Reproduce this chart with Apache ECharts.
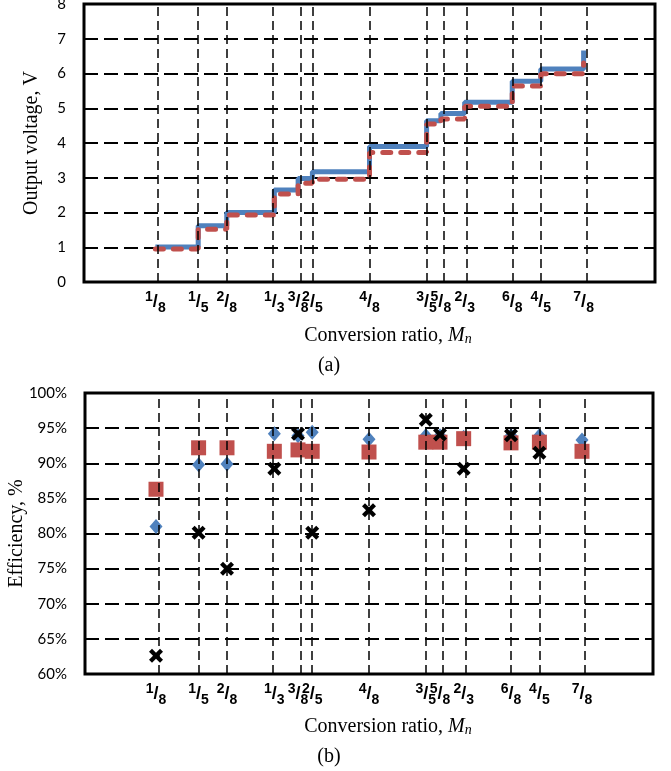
<!DOCTYPE html>
<html>
<head>
<meta charset="utf-8">
<script src="https://cdn.jsdelivr.net/npm/echarts@6/dist/echarts.min.js"></script>
<style>html,body{margin:0;padding:0;background:#fff;}#c{width:671px;height:771px;}</style>
</head>
<body>
<div id="c"></div>
<script>
// Conversion ratios (tick labels) and their values
const ratioLabels = ['1/8','1/5','2/8','1/3','3/8','2/5','4/8','3/5','5/8','2/3','6/8','4/5','7/8'];
const ratios = [1/8, 1/5, 2/8, 1/3, 3/8, 2/5, 4/8, 3/5, 5/8, 2/3, 6/8, 4/5, 7/8];

// (a) Output voltage, V
const voltageBlue = [1.01, 1.62, 2.00, 2.65, 2.98, 3.17, 3.90, 4.64, 4.85, 5.17, 5.78, 6.13, 6.66];
const voltageRed  = [0.95, 1.52, 1.93, 2.53, 2.84, 2.96, 3.73, 4.55, 4.69, 5.06, 5.64, 5.99, 6.30];
const voltageTicks = [0, 1, 2, 3, 4, 5, 6, 7, 8];

// (b) Efficiency, %
const effBlue  = [81.0, 89.8, 89.9, 94.2, 93.9, 94.4, 93.4, 93.9, 93.9, 93.7, 93.9, 93.9, 93.3];
const effRed   = [86.3, 92.2, 92.2, 91.7, 91.9, 91.7, 91.6, 93.0, 93.0, 93.5, 92.9, 93.0, 91.7];
const effCross = [62.6, 80.1, 75.0, 89.2, 94.2, 80.1, 83.3, 96.2, 94.1, 89.2, 94.0, 91.5, null];
const effTicks = [60, 65, 70, 75, 80, 85, 90, 95, 100];

const BLUE = '#4F81BD', RED = '#C0504D';
const chart = echarts.init(document.getElementById('c'), null, {renderer: 'canvas'});

function fracLabel(v) {
  let i = 0, best = 1e9;
  ratios.forEach((r, k) => { const d = Math.abs(r - v); if (d < best) { best = d; i = k; } });
  const p = ratioLabels[i].split('/');
  return '{n|' + p[0] + '}{s|/}{d|' + p[1] + '}';
}
const fracRich = {
  n: {fontSize: 14, fontWeight: 'bold', fontFamily: 'Liberation Sans', color: '#000', verticalAlign: 'top', lineHeight: 12},
  s: {fontSize: 18, fontWeight: 'bold', fontFamily: 'Liberation Sans', color: '#000', verticalAlign: 'middle', lineHeight: 25},
  d: {fontSize: 14, fontWeight: 'bold', fontFamily: 'Liberation Sans', color: '#000', verticalAlign: 'bottom', lineHeight: 12}
};

function xAxisFor(gi) {
  return {
    type: 'value', gridIndex: gi, min: 0, max: 1,
    axisLine: {show: false}, axisTick: {show: false}, splitLine: {show: false},
    axisLabel: {customValues: ratios, formatter: fracLabel, rich: fracRich, margin: 8, hideOverlap: false}
  };
}
const hSplit = {show: true, lineStyle: {color: '#000', width: 2.2, type: [14, 6]}};
const tickFont = {fontFamily: 'Lato', fontSize: 15, color: '#000', margin: 18};
const nameFont = {fontFamily: 'Liberation Serif', fontSize: 20, color: '#000'};

function vLines(xi, yi) {
  return {
    type: 'line', xAxisIndex: xi, yAxisIndex: yi, data: [], z: 1, silent: true,
    markLine: {
      silent: true, symbol: ['none', 'none'], label: {show: false},
      lineStyle: {color: '#000', width: 1.5, type: [9, 5]},
      emphasis: {disabled: true},
      data: ratios.map(r => ({xAxis: r}))
    }
  };
}

const option = {
  backgroundColor: '#fff',
  animation: false,
  grid: [
    {left: 84, top: 4, width: 571, height: 278, show: true, borderColor: '#000', borderWidth: 3, backgroundColor: 'transparent', containLabel: false, outerBoundsMode: 'none'},
    {left: 85, top: 393, width: 568, height: 281, show: true, borderColor: '#000', borderWidth: 3, backgroundColor: 'transparent', containLabel: false, outerBoundsMode: 'none'}
  ],
  xAxis: [xAxisFor(0), xAxisFor(1)],
  yAxis: [
    {type: 'value', gridIndex: 0, min: voltageTicks[0], max: voltageTicks[voltageTicks.length - 1], interval: 1,
     axisLine: {show: false}, axisTick: {show: false}, splitLine: hSplit,
     axisLabel: tickFont, nameMoveOverlap: false,
     name: 'Output voltage, V', nameLocation: 'middle', nameGap: 42, nameTextStyle: nameFont},
    {type: 'value', gridIndex: 1, min: effTicks[0], max: effTicks[effTicks.length - 1], interval: 5,
     axisLine: {show: false}, axisTick: {show: false}, splitLine: hSplit,
     axisLabel: Object.assign({formatter: '{value}%'}, tickFont), nameMoveOverlap: false,
     name: 'Efficiency, %', nameLocation: 'middle', nameGap: 58, nameTextStyle: nameFont}
  ],
  series: [
    vLines(0, 0),
    vLines(1, 1),
    {type: 'line', xAxisIndex: 0, yAxisIndex: 0, step: 'end', showSymbol: false, z: 3,
     lineStyle: {color: BLUE, width: 5},
     data: ratios.map((r, i) => [r, voltageBlue[i]])},
    {type: 'line', xAxisIndex: 0, yAxisIndex: 0, step: 'end', showSymbol: false, z: 4,
     lineStyle: {color: RED, width: 5, type: [8, 10], cap: 'round'},
     data: ratios.map((r, i) => [r, voltageRed[i]])},
    {type: 'scatter', xAxisIndex: 1, yAxisIndex: 1, symbol: 'diamond', symbolSize: [13, 15], z: 3,
     itemStyle: {color: BLUE, opacity: 1},
     data: ratios.map((r, i) => [r, effBlue[i]])},
    {type: 'scatter', xAxisIndex: 1, yAxisIndex: 1, symbol: 'rect', symbolSize: 15, z: 4,
     itemStyle: {color: RED, opacity: 1},
     data: ratios.map((r, i) => [r, effRed[i]])},
    {type: 'scatter', xAxisIndex: 1, yAxisIndex: 1, z: 5,
     symbol: 'path://M0,3 L3,0 L7,4 L11,0 L14,3 L10,7 L14,11 L11,14 L7,10 L3,14 L0,11 L4,7 Z',
     symbolSize: 14, itemStyle: {color: '#000', opacity: 1},
     data: ratios.map((r, i) => [r, effCross[i]]).filter(d => d[1] !== null)}
  ],
  graphic: [
    {type: 'text', x: 388, y: 335, style: {text: '{a|Conversion ratio, }{m|M}{sub|n}', textAlign: 'center', textVerticalAlign: 'middle',
      rich: {a: {fontFamily: 'Liberation Serif', fontSize: 20, fill: '#000', verticalAlign: 'bottom', lineHeight: 22},
             m: {fontFamily: 'Liberation Serif', fontStyle: 'italic', fontSize: 20, fill: '#000', verticalAlign: 'bottom', lineHeight: 22},
             sub: {fontFamily: 'Liberation Serif', fontStyle: 'italic', fontSize: 14, fill: '#000', verticalAlign: 'bottom', lineHeight: 18}}}},
    {type: 'text', x: 329, y: 366, style: {text: '(a)', font: '20px "Liberation Serif"', fill: '#000', textAlign: 'center', textVerticalAlign: 'middle'}},
    {type: 'text', x: 388, y: 726, style: {text: '{a|Conversion ratio, }{m|M}{sub|n}', textAlign: 'center', textVerticalAlign: 'middle',
      rich: {a: {fontFamily: 'Liberation Serif', fontSize: 20, fill: '#000', verticalAlign: 'bottom', lineHeight: 22},
             m: {fontFamily: 'Liberation Serif', fontStyle: 'italic', fontSize: 20, fill: '#000', verticalAlign: 'bottom', lineHeight: 22},
             sub: {fontFamily: 'Liberation Serif', fontStyle: 'italic', fontSize: 14, fill: '#000', verticalAlign: 'bottom', lineHeight: 18}}}},
    {type: 'text', x: 329, y: 757, style: {text: '(b)', font: '20px "Liberation Serif"', fill: '#000', textAlign: 'center', textVerticalAlign: 'middle'}}
  ]
};
chart.setOption(option);
</script>
</body>
</html>
